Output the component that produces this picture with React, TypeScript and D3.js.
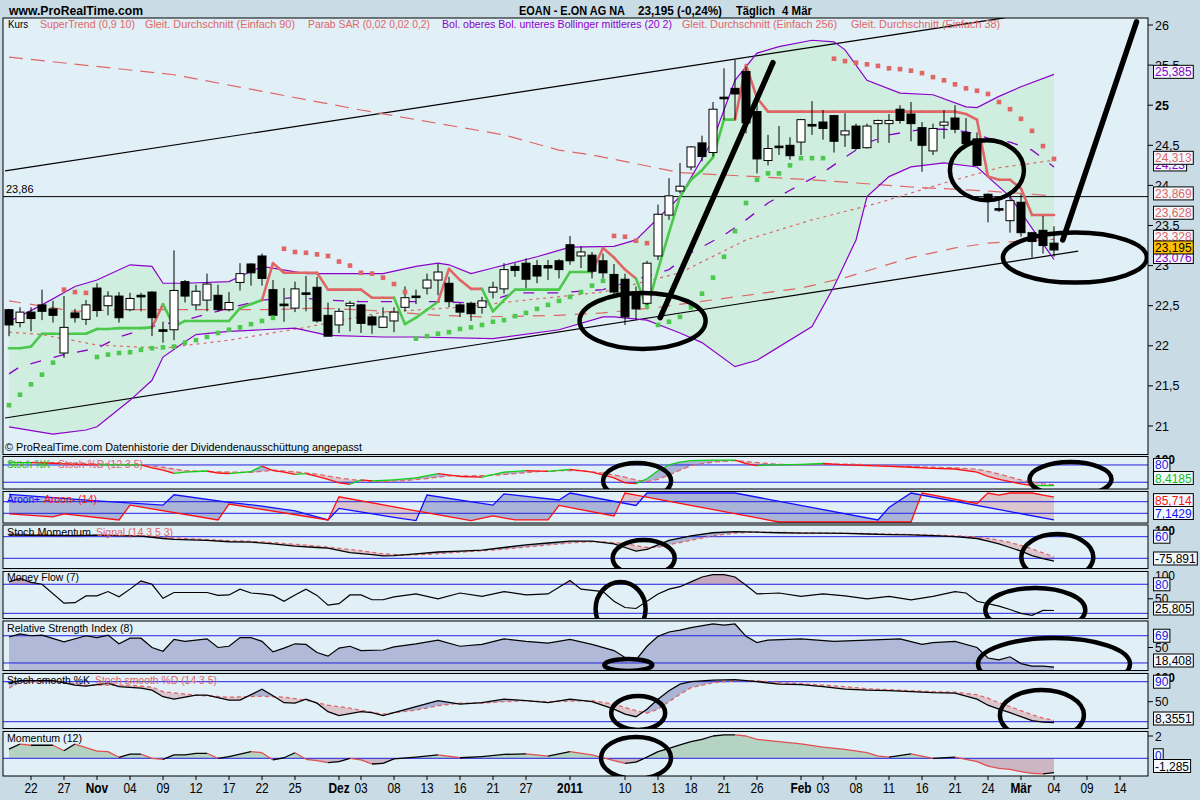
import React from 'react';
import * as d3 from 'd3';

type P = [number, number];

// trading-day index: 0 = 22 Oct 2010, 93 = 4 Mar 2011; first candle is index -2
const FIRST = -2;
const openP = [22.45,22.29,22.42,22.51,22.46,21.91,22.41,22.33,22.72,22.50,22.62,22.45,22.63,22.67,22.20,22.20,22.80,22.51,22.57,22.63,22.45,22.79,23.02,23.12,22.70,22.52,22.47,22.66,22.73,22.38,22.26,22.50,22.51,22.36,22.23,22.31,22.48,22.62,22.72,22.82,22.78,22.51,22.53,22.48,22.67,22.71,22.99,23.03,23.00,23.00,23.06,23.26,23.12,23.13,23.06,22.89,22.83,22.67,22.53,23.12,23.63,23.93,24.23,24.53,24.41,25.10,25.21,25.42,24.92,24.31,24.49,24.50,24.54,24.76,24.79,24.87,24.63,24.74,24.47,24.77,24.77,24.95,24.89,24.72,24.43,24.75,24.84,24.66,24.58,23.89,23.71,23.56,23.79,23.41,23.44,23.28];
const highP = [22.46,22.48,22.48,22.70,22.56,22.62,22.46,22.57,22.78,22.68,22.67,22.66,22.66,22.68,22.30,23.19,22.82,22.76,22.90,22.76,22.67,23.03,23.03,23.15,22.82,22.72,22.80,22.87,22.86,22.54,22.47,22.56,22.52,22.38,22.48,22.48,22.74,22.70,22.90,23.02,22.86,22.53,22.55,22.61,22.80,23.03,23.03,23.09,23.07,23.07,23.08,23.37,23.24,23.17,23.15,23.02,22.90,22.74,23.06,23.76,24.09,24.28,24.49,24.62,25.04,25.46,25.57,25.48,25.02,24.63,24.74,24.60,24.83,25.05,24.94,24.87,24.90,24.77,24.77,24.82,24.89,25.00,25.04,24.79,24.77,24.94,25.00,24.84,24.66,23.90,23.86,23.89,23.89,23.42,23.62,23.49];
const lowP = [22.12,22.23,22.18,22.32,22.29,21.85,22.29,22.26,22.36,22.38,22.29,22.43,22.43,22.12,22.04,22.07,22.54,22.44,22.43,22.43,22.43,22.69,22.75,22.75,22.32,22.30,22.42,22.43,22.29,22.12,22.16,22.18,22.16,22.15,22.22,22.17,22.43,22.52,22.64,22.63,22.48,22.36,22.31,22.40,22.59,22.65,22.86,22.72,22.78,22.82,22.84,23.01,22.97,22.84,22.84,22.62,22.26,22.32,22.51,23.07,23.57,23.90,24.19,24.30,24.36,24.82,24.82,24.65,24.15,24.25,24.38,24.32,24.38,24.63,24.57,24.41,24.48,24.44,24.46,24.53,24.53,24.77,24.55,24.17,24.38,24.58,24.65,24.48,24.25,23.54,23.67,23.41,23.36,23.10,23.15,23.11];
const closeP = [22.26,22.42,22.34,22.43,22.38,22.23,22.35,22.51,22.44,22.62,22.35,22.59,22.61,22.35,22.18,22.69,22.62,22.68,22.77,22.45,22.54,22.90,22.91,22.84,22.38,22.50,22.71,22.65,22.31,22.12,22.43,22.53,22.28,22.26,22.36,22.42,22.60,22.61,22.82,22.92,22.55,22.42,22.40,22.56,22.73,22.95,22.94,22.83,22.87,22.97,22.95,23.06,23.17,22.93,22.91,22.67,22.36,22.46,23.03,23.64,23.87,23.99,24.48,24.36,24.95,25.08,25.14,24.78,24.33,24.46,24.47,24.37,24.82,24.74,24.71,24.55,24.68,24.46,24.74,24.81,24.81,24.81,24.77,24.50,24.71,24.79,24.70,24.52,24.25,23.80,23.70,23.81,23.41,23.30,23.25,23.195];
const superTrend = [21.97,21.97,21.99,22.15,22.15,22.15,22.15,22.15,22.21,22.21,22.22,22.22,22.22,22.23,22.52,22.24,22.31,22.31,22.31,22.31,22.31,22.47,22.52,22.57,23.03,22.91,22.91,22.91,22.91,22.70,22.70,22.70,22.70,22.60,22.60,22.60,22.27,22.35,22.45,22.55,22.96,22.82,22.71,22.71,22.43,22.57,22.70,22.70,22.70,22.70,22.70,22.92,22.92,22.92,23.22,23.10,22.95,22.84,22.47,22.95,23.41,23.86,24.07,24.19,24.35,24.82,24.82,25.50,25.09,24.92,24.92,24.92,24.92,24.92,24.92,24.92,24.92,24.92,24.92,24.92,24.92,24.92,24.92,24.92,24.92,24.92,24.92,24.89,24.82,24.11,24.07,24.07,23.96,23.63,23.63,23.63];
const parabSar = [21.26,21.39,21.52,21.64,21.79,22.70,22.67,22.66,21.86,21.89,21.91,21.92,21.95,21.97,21.98,21.99,22.04,22.07,22.11,22.16,22.20,22.23,22.27,22.31,22.35,23.21,23.17,23.16,23.14,23.12,23.05,23.00,22.91,22.90,22.85,22.77,22.67,22.09,22.12,22.15,22.17,22.21,22.23,22.26,22.30,22.32,22.37,22.41,22.46,22.51,22.56,22.61,22.67,22.75,22.81,23.37,23.36,23.31,23.28,22.26,22.30,22.36,22.48,22.65,22.85,23.11,23.43,23.78,24.07,24.15,24.15,24.25,24.34,24.34,24.34,25.58,25.55,25.53,25.51,25.49,25.46,25.45,25.43,25.40,25.35,25.31,25.26,25.21,25.18,25.14,25.04,24.95,24.83,24.68,24.49,24.33];

const bbUpper: P[] = [[-2,22.30],[1,22.51],[4,22.74],[6,22.82],[9,23.01],[11,22.99],[12,22.78],[14,22.78],[18,22.80],[21,22.99],[25,22.90],[32,22.90],[35,22.99],[37,23.03],[38,23.01],[40,22.90],[42,22.97],[46,23.11],[49,23.23],[53,23.24],[55,23.32],[59,23.86],[62,24.57],[64,25.31],[66,25.65],[68,25.73],[71,25.81],[73,25.79],[74,25.69],[76,25.31],[79,25.15],[82,25.13],[85,24.98],[86,24.97],[88,25.11],[90,25.23],[93,25.385]];
const bbLower: P[] = [[-2,20.99],[2,20.90],[5,20.95],[6,20.99],[9,21.32],[11,21.57],[12,21.86],[14,22.05],[15,22.14],[18,22.18],[21,22.20],[24,22.22],[27,22.13],[32,22.11],[35,22.11],[42,22.09],[48,22.20],[52,22.36],[53,22.36],[56,22.32],[59,22.16],[61,22.04],[64,21.74],[66,21.82],[71,22.24],[73,22.74],[75,23.32],[76,23.86],[78,24.11],[80,24.23],[83,24.28],[86,24.23],[89,23.86],[92,23.27],[93,23.076]];
const bbMiddle: P[] = [[-2,21.65],[-1,21.74],[3,21.89],[6,21.97],[8,22.11],[11,22.24],[14,22.32],[18,22.47],[21,22.57],[24,22.60],[27,22.57],[30,22.55],[37,22.55],[41,22.53],[44,22.66],[48,22.66],[52,22.70],[58,22.95],[60,23.16],[63,23.38],[65,23.57],[67,23.78],[69,23.94],[72,24.16],[74,24.35],[76,24.53],[78,24.63],[81,24.70],[83,24.70],[85,24.67],[87,24.59],[89,24.54],[91,24.44],[93,24.23]];
const sma256: P[] = [[-2,25.60],[13,25.38],[30,24.94],[43,24.63],[48,24.44],[51,24.38],[59,24.16],[71,24.07],[80,23.98],[87,23.93],[93,23.869]];
const sma90: P[] = [[-2,22.56],[4,22.43],[8,22.45],[15,22.45],[22,22.45],[26,22.47],[30,22.45],[37,22.38],[41,22.36],[48,22.38],[52,22.41],[57,22.48],[64,22.61],[70,22.72],[74,22.85],[80,23.10],[84,23.22],[87,23.28],[93,23.328]];
const sma38: P[] = [[-2,22.17],[1,22.14],[6,22.01],[12,21.97],[18,22.07],[25,22.23],[32,22.42],[39,22.48],[45,22.57],[52,22.67],[59,22.91],[65,23.32],[71,23.57],[77,23.78],[83,24.03],[88,24.22],[93,24.313]];

const stochK: P[] = [[-2,88],[0,88],[2,86],[4,82],[6,80],[10,80],[11,70],[12,62],[13,51],[14,55],[16,59],[17,52],[18,50],[20,57],[21,76],[22,60],[23,55],[24,47],[25,50],[26,40],[27,30],[28,18],[29,13],[30,28],[31,25],[33,28],[35,35],[37,50],[39,40],[41,38],[43,55],[45,60],[47,58],[49,65],[51,55],[53,35],[54,18],[55,15],[56,32],[57,60],[58,80],[59,90],[60,95],[62,97],[64,97],[65,85],[66,78],[68,80],[70,82],[72,85],[74,80],[76,78],[78,75],[80,72],[82,68],[84,66],[86,55],[87,40],[88,30],[89,22],[90,14],[91,8],[92,8],[93,8.42]];
const stochD: P[] = [[-2,90],[2,88],[6,84],[10,80],[12,72],[14,60],[17,56],[20,54],[22,62],[24,56],[26,48],[28,35],[30,25],[32,22],[34,26],[36,33],[38,42],[40,42],[42,44],[44,50],[46,57],[48,60],[50,60],[52,52],[54,38],[55,28],[56,22],[57,30],[58,45],[59,62],[60,78],[62,90],[64,95],[66,88],[68,82],[70,80],[72,82],[74,83],[76,81],[78,78],[80,75],[82,72],[84,70],[86,65],[87,58],[88,48],[89,38],[90,28],[91,20],[92,14],[93,11]];
const aroonUp: P[] = [[-2,95],[6,73],[12,58],[13,94],[18,68],[21,55],[24,38],[27,7],[28,47],[33,16],[35,5],[36,93],[42,58],[43,97],[48,76],[49,100],[55,57],[56,100],[64,100],[77,7],[78,50],[80,100],[93,7.14]];
const aroonDown: P[] = [[-2,28],[2,18],[3,28],[8,7],[9,58],[17,7],[18,62],[27,7],[28,87],[34,45],[40,5],[42,21],[44,7],[47,7],[48,57],[53,21],[54,100],[55,93],[68,0],[80,0],[81,100],[86,64],[87,100],[88,93],[89,100],[91,100],[92,93],[93,85.71]];
const smi: P[] = [[-2,70],[0,68],[4,66],[6,69],[10,63],[12,50],[13,45],[16,40],[18,32],[20,30],[22,20],[24,8],[26,0],[27,-4],[29,-29],[31,-40],[32,-47],[33,-45],[35,-35],[37,-25],[39,-20],[41,-15],[43,0],[45,15],[47,25],[49,35],[51,35],[53,20],[54,0],[55,-20],[56,-10],[57,15],[58,40],[60,65],[62,82],[64,88],[66,85],[68,82],[70,80],[72,80],[74,78],[76,75],[78,72],[80,70],[82,66],[84,60],[86,50],[87,35],[88,20],[89,0],[90,-20],[91,-45],[92,-62],[93,-75.89]];
const smiSignal: P[] = [[-2,78],[2,70],[6,68],[10,66],[12,58],[14,50],[16,44],[18,38],[20,34],[22,27],[24,18],[26,8],[28,-5],[30,-18],[32,-35],[34,-42],[36,-38],[38,-30],[40,-22],[42,-14],[44,-4],[46,8],[48,20],[50,30],[52,32],[54,22],[55,10],[56,0],[57,2],[58,15],[60,40],[62,65],[64,80],[66,86],[68,84],[70,82],[72,80],[74,79],[76,77],[78,75],[80,72],[82,69],[84,65],[86,58],[87,50],[88,40],[89,28],[90,12],[91,-8],[92,-30],[93,-52]];
const moneyFlow: P[] = [[-2,85],[-1,92],[0,84],[1,80],[3,41],[4,42],[5,56],[6,56],[7,65],[8,54],[9,70],[10,87],[11,80],[12,51],[13,63],[14,63],[16,63],[17,57],[18,58],[19,70],[20,62],[21,60],[22,57],[23,45],[24,58],[25,70],[26,57],[27,37],[28,40],[29,58],[30,58],[31,48],[32,48],[33,54],[35,60],[37,50],[39,62],[41,55],[43,65],[45,58],[47,60],[49,88],[50,70],[52,65],[53,45],[54,32],[55,30],[56,45],[57,60],[58,70],[59,75],[60,85],[61,95],[62,100],[63,100],[64,95],[65,78],[66,60],[68,62],[70,55],[72,60],[74,56],[76,50],[78,55],[80,48],[82,55],[84,65],[85,62],[86,45],[88,35],[89,28],[90,20],[91,16],[92,26],[93,25.8]];
const rsi: P[] = [[-2,67],[-1,72],[0,69],[1,70],[3,59],[5,69],[6,66],[7,70],[8,56],[9,65],[10,65],[11,50],[12,44],[13,63],[14,60],[16,64],[17,50],[18,52],[19,66],[20,66],[21,60],[22,43],[23,49],[24,56],[25,55],[26,42],[27,36],[28,49],[29,52],[30,45],[32,46],[33,51],[35,56],[37,62],[39,52],[41,55],[43,64],[45,60],[47,57],[49,63],[51,55],[53,45],[54,34],[55,30],[56,52],[57,68],[58,75],[59,78],[60,82],[62,88],[63,86],[64,88],[65,68],[66,58],[67,62],[70,64],[73,60],[76,62],[79,64],[81,55],[82,58],[84,60],[86,50],[87,33],[88,30],[89,35],[90,24],[91,20],[92,20],[93,18.41]];
const ssK: P[] = [[-2,87],[-1,92],[2,92],[4,83],[5,81],[7,87],[8,80],[10,77],[11,73],[12,60],[13,55],[15,63],[16,63],[18,53],[19,53],[21,75],[22,62],[23,48],[24,47],[25,55],[26,47],[27,30],[28,22],[30,30],[31,28],[32,22],[33,28],[35,40],[37,52],[39,45],[41,48],[43,55],[45,52],[47,48],[49,55],[51,50],[53,35],[54,25],[55,20],[56,35],[57,55],[58,72],[59,85],[60,90],[62,93],[64,94],[66,90],[68,85],[70,84],[72,80],[74,75],[76,73],[78,72],[80,70],[82,68],[84,67],[86,55],[87,43],[88,35],[89,28],[90,20],[91,12],[92,9],[93,8.36]];
const ssD: P[] = [[-2,77],[-1,89],[2,92],[5,83],[9,83],[11,79],[12,70],[15,63],[18,59],[21,61],[23,59],[25,53],[27,43],[29,37],[32,25],[33,28],[35,33],[37,42],[39,47],[41,47],[43,50],[45,52],[47,50],[49,51],[51,52],[53,45],[55,32],[56,27],[57,35],[58,50],[59,65],[60,78],[62,88],[64,92],[66,92],[68,88],[70,86],[72,83],[74,80],[76,76],[78,74],[80,72],[82,70],[84,69],[86,64],[87,57],[88,48],[89,40],[90,32],[91,24],[92,17],[93,13]];
const momentum: P[] = [[-2,0.83],[-1,1.28],[0,1.17],[2,1.17],[3,0.68],[4,1.28],[6,0.65],[7,0.6],[8,0.09],[9,0.38],[10,0.38],[11,0],[12,-0.09],[13,0.3],[14,0.3],[15,0.45],[16,0.45],[17,0],[18,0.15],[19,0.38],[20,0.6],[21,0.5],[22,-0.15],[23,0.05],[24,0.5],[25,-0.09],[26,-0.21],[27,-0.39],[28,-0.3],[29,0],[30,-0.15],[31,-0.51],[32,-0.45],[33,-0.06],[35,0.1],[37,0.3],[39,0.05],[41,0.15],[43,0.35],[45,0.4],[47,0.2],[49,0.6],[51,0.3],[53,-0.2],[54,-0.45],[55,-0.35],[56,0.1],[57,0.6],[58,0.9],[59,1.2],[60,1.5],[61,1.7],[62,2.0],[63,2.1],[64,2.1],[65,2.0],[66,1.7],[68,1.5],[70,1.3],[72,1.0],[74,0.8],[76,0.5],[77,0.2],[78,0.1],[80,0.4],[82,0.0],[84,0.1],[86,-0.3],[87,-0.7],[88,-0.9],[89,-1.0],[90,-1.2],[91,-1.35],[92,-1.4],[93,-1.285]];

const xLabels: [number, string, boolean][] = [[0,'22',false],[3,'27',false],[6,'Nov',true],[9,'04',false],[12,'09',false],[15,'12',false],[18,'17',false],[21,'22',false],[24,'25',false],[28,'Dez',true],[30,'03',false],[33,'08',false],[36,'13',false],[39,'16',false],[42,'21',false],[45,'27',false],[49,'2011',true],[54,'10',false],[57,'13',false],[60,'18',false],[63,'21',false],[66,'26',false],[70,'Feb',true],[72,'03',false],[75,'08',false],[78,'11',false],[81,'16',false],[84,'21',false],[87,'24',false],[90,'Mär',true],[93,'04',false],[96,'09',false],[99,'14',false]];
const priceTicks = [21, 21.5, 22, 22.5, 23, 23.5, 24, 24.5, 25, 25.5, 26];

// legend / label texts: [text, x start, width, colour key]
const mainLegend: [string, number, number, string][] = [
  ['Kurs', 8, 20, 'black'],
  ['SuperTrend (0,9 10)', 40, 95, 'red'],
  ['Gleit. Durchschnitt (Einfach 90)', 145, 150, 'red'],
  ['Parab SAR (0,02 0,02 0,2)', 308, 122, 'red'],
  ['Bol. oberes Bol. unteres Bollinger mittleres (20 2)', 442, 230, 'purple'],
  ['Gleit. Durchschnitt (Einfach 256)', 682, 155, 'red'],
  ['Gleit. Durchschnitt (Einfach 38)', 851, 149, 'red'],
];

// hand-drawn annotations (index, price)
const hLine = 23.86;
const thinLines: [P, P][] = [[[-2.36, 24.18], [88.5, 26.09]], [[-2.36, 21.10], [95.2, 23.18]]];
const thickLines: [P, P][] = [[[57.2, 22.35], [67.45, 25.53]], [[93.8, 23.32], [100.5, 26.04]]];
const mainEllipses: [number, number, number, number][] = [[55.6, 22.31, 63, 28], [86.9, 24.19, 37, 30], [94.9, 23.10, 72, 25]];

const COL: Record<string, string> = {
  outer: '#c9dbe5', panel: '#e1eff7', bb: '#cfeedf', purple: '#8c00cc', red: '#e06666', black: '#000',
  green: '#4cc84c', blue: '#2222e0', fillBlue: '#aab4d6', fillPink: '#dcc6ce', rsiFill: '#b0b9d8',
  momPos: '#b4d3c2', momNeg: '#ccb6c4', mfFill: '#c6a8bd',
};

const FONT = 'Liberation Sans, Arial, Helvetica, sans-serif';

export default function App() {
  const L = 3, R = 1148;
  const x = d3.scaleLinear().domain([0, 93]).range([31, 1054]);
  const yMain = d3.scaleLinear().domain([21, 26]).range([426, 25]);
  const MT = 18, MB = 454.5;

  const pn = {
    stoch: { top: 456.5, bottom: 489, y: d3.scaleLinear().domain([0, 100]).range([488, 459.2]) },
    aroon: { top: 491.5, bottom: 523, y: d3.scaleLinear().domain([0, 100]).range([522, 493]) },
    smi: { top: 525, bottom: 568.5, y: d3.scaleLinear().domain([-100, 100]).range([565.5, 529.5]) },
    mf: { top: 571.5, bottom: 618.5, y: d3.scaleLinear().domain([0, 100]).range([623, 574.6]) },
    rsi: { top: 621, bottom: 670.5, y: d3.scaleLinear().domain([0, 100]).range([678.45, 616.55]) },
    ss: { top: 673.5, bottom: 728.5, y: d3.scaleLinear().domain([0, 100]).range([726.7, 676.7]) },
    mom: { top: 731.5, bottom: 776, y: d3.scaleLinear().domain([-2, 2]).range([780.6, 736]) },
  };

  const lineP = (data: P[], ys: any) => d3.line<P>().x(d => x(d[0])).y(d => ys(d[1]))(data) || '';
  const areaTop = (data: P[], ys: any, top: number) => d3.area<P>().x(d => x(d[0])).y0(top).y1(d => ys(d[1]))(data) || '';
  const areaBot = (data: P[], ys: any, bot: number) => d3.area<P>().x(d => x(d[0])).y0(d => ys(d[1])).y1(bot)(data) || '';

  const between = (id: string, a: P[], b: P[], ys: any, top: number, bot: number, colAUp: string, colBUp: string) => (
    <g>
      <defs>
        <clipPath id={id + 'A'}><path d={areaBot(a, ys, bot)} /></clipPath>
        <clipPath id={id + 'B'}><path d={areaBot(b, ys, bot)} /></clipPath>
      </defs>
      <path d={areaTop(b, ys, top)} fill={colAUp} clipPath={`url(#${id}A)`} />
      <path d={areaTop(a, ys, top)} fill={colBUp} clipPath={`url(#${id}B)`} />
    </g>
  );

  const segLine = (key: string, data: P[], ys: any, colorFn: (p: P, d: P) => string, w: number) =>
    data.slice(1).map((d, i) => {
      const p = data[i];
      return <line key={key + i} x1={x(p[0])} y1={ys(p[1])} x2={x(d[0])} y2={ys(d[1])}
        stroke={colorFn(p, d)} strokeWidth={w} strokeLinecap={w > 1.5 ? 'round' : 'butt'} />;
    });

  const tw = (s: string) => [...s].reduce((a, c) => a + (c === ',' ? 3.3 : c === '-' ? 4 : 6.7), 0);
  const vbox = (key: string, yc: number, text: string, color: string, bg = '#f3f9fc') => (
    <g key={key}>
      <rect x={1153.5} y={yc - 6.5} width={tw(text) + 3} height={13} fill={bg} stroke="#000" strokeWidth={1} />
      <text x={1155} y={yc + 4.5} fontSize={12} fill={color}>{text}</text>
    </g>
  );
  const clampBox = (v: number, top: number, bot: number) => Math.max(top + 7, Math.min(bot - 10, v));

  const priceSeries = closeP.map((c, i) => ({ i: FIRST + i, o: openP[i], h: highP[i], l: lowP[i], c }));

  const bandPts: [number, number][] = [
    ...bbUpper.map(p => [x(p[0]), yMain(p[1])] as [number, number]),
    ...bbLower.slice().reverse().map(p => [x(p[0]), yMain(p[1])] as [number, number]),
  ];
  const bandPath = (d3.line()(bandPts) || '') + 'Z';

  const stPts: P[] = superTrend.map((v, i) => [FIRST + i, v]);
  const stColor = (_p: P, d: P) => (d[1] > closeP[d[0] - FIRST] ? COL.red : COL.green);

  const panelRect = (key: string, top: number, bot: number) => (
    <rect key={key} x={L} y={top} width={R - L} height={bot - top} fill={COL.panel} />
  );
  const panelBorder = (key: string, top: number, bot: number) => (
    <rect key={key} x={L} y={top} width={R - L} height={bot - top} fill="none" stroke="#000" strokeWidth={1} />
  );
  const hRef = (key: string, ys: any, v: number) => (
    <line key={key} x1={L} x2={R} y1={ys(v)} y2={ys(v)} stroke={COL.blue} strokeWidth={1} />
  );
  const clipDef = (id: string, top: number, bot: number) => (
    <clipPath id={id}><rect x={L} y={top} width={R - L} height={bot - top} /></clipPath>
  );
  const ell = (key: string, cx: number, cy: number, rx: number, ry: number) => (
    <ellipse key={key} cx={cx} cy={cy} rx={rx} ry={ry} fill="none" stroke="#000" strokeWidth={4.5} />
  );
  const lbl = (key: string, xx: number, yy: number, t: string, c: string, w: number) => (
    <text key={key} x={xx} y={yy} fontSize={11} fill={c} textLength={w} lengthAdjust="spacingAndGlyphs">{t}</text>
  );
  const bold = (xx: number, yy: number, t: string, w: number) => (
    <text x={xx} y={yy} fontSize={13} fontWeight="bold" textLength={w} lengthAdjust="spacingAndGlyphs">{t}</text>
  );

  const upDown = (up: string, down: string) => (p: P, d: P) => (d[1] >= p[1] ? up : down);

  return (
    <svg width={1200} height={800} style={{ position: 'absolute', left: 0, top: 0, display: 'block' }} fontFamily={FONT}>
      <defs>
        {clipDef('cMain', MT, MB)}
        {clipDef('cStoch', pn.stoch.top, pn.stoch.bottom)}
        {clipDef('cAroon', pn.aroon.top, pn.aroon.bottom)}
        {clipDef('cSmi', pn.smi.top, pn.smi.bottom)}
        {clipDef('cMf', pn.mf.top, pn.mf.bottom)}
        {clipDef('cRsi', pn.rsi.top, pn.rsi.bottom)}
        {clipDef('cSs', pn.ss.top, pn.ss.bottom)}
        {clipDef('cMom', pn.mom.top, pn.mom.bottom)}
        <clipPath id="mfAbove"><rect x={L} y={pn.mf.top} width={R - L} height={pn.mf.y(80) - pn.mf.top} /></clipPath>
        <clipPath id="momAbove"><rect x={L} y={pn.mom.top} width={R - L} height={pn.mom.y(0) - pn.mom.top} /></clipPath>
        <clipPath id="momBelow"><rect x={L} y={pn.mom.y(0)} width={R - L} height={pn.mom.bottom - pn.mom.y(0)} /></clipPath>
      </defs>
      <rect x={0} y={0} width={1200} height={800} fill={COL.outer} />

      {/* title */}
      {bold(9, 15, 'www.ProRealTime.com', 134)}
      {bold(519, 15, 'EOAN - E.ON AG NA', 106)}
      {bold(638, 15, '23,195 (-0,24%)', 84)}
      {bold(736, 15, 'Täglich', 39)}
      {bold(782, 15, '4 Mär', 30)}

      {/* ================= MAIN PRICE PANEL ================= */}
      {panelRect('pm', MT, MB)}
      <g clipPath="url(#cMain)">
        <path d={bandPath} fill={COL.bb} />
        <line x1={L} x2={R} y1={yMain(hLine)} y2={yMain(hLine)} stroke="#000" strokeWidth={1} />
        {thinLines.map((l, i) => (
          <line key={'tl' + i} x1={x(l[0][0])} y1={yMain(l[0][1])} x2={x(l[1][0])} y2={yMain(l[1][1])} stroke="#000" strokeWidth={1.2} />
        ))}
        <path d={lineP(sma256, yMain)} fill="none" stroke={COL.red} strokeWidth={1.2} strokeDasharray="14,8" />
        <path d={lineP(sma90, yMain)} fill="none" stroke={COL.red} strokeWidth={1.2} strokeDasharray="12,9" />
        <path d={lineP(sma38, yMain)} fill="none" stroke={COL.red} strokeWidth={1.2} strokeDasharray="3,4" />
        <path d={lineP(bbUpper, yMain)} fill="none" stroke={COL.purple} strokeWidth={1.2} />
        <path d={lineP(bbLower, yMain)} fill="none" stroke={COL.purple} strokeWidth={1.2} />
        <path d={lineP(bbMiddle, yMain)} fill="none" stroke={COL.purple} strokeWidth={1.3} strokeDasharray="11,13" />
        {segLine('st', stPts, yMain, stColor, 2.6)}
        {priceSeries.map(d => {
          const cx = x(d.i);
          const top = yMain(Math.max(d.o, d.c));
          const bot = yMain(Math.min(d.o, d.c));
          const up = d.c >= d.o;
          return (
            <g key={'c' + d.i}>
              <line x1={cx} x2={cx} y1={yMain(d.h)} y2={yMain(d.l)} stroke="#000" strokeWidth={1} />
              <rect x={cx - 4} y={top} width={8} height={Math.max(1.5, bot - top)} fill={up ? '#fff' : '#000'} stroke="#000" strokeWidth={1} />
            </g>
          );
        })}
        {parabSar.map((v, i) => (
          <rect key={'s' + i} x={x(FIRST + i) - 2.3} y={yMain(v) - 2.3} width={4.6} height={4.6}
            fill={v > closeP[i] ? COL.red : COL.green} />
        ))}
        {thickLines.map((l, i) => (
          <line key={'th' + i} x1={x(l[0][0])} y1={yMain(l[0][1])} x2={x(l[1][0])} y2={yMain(l[1][1])} stroke="#000" strokeWidth={5.5} strokeLinecap="round" />
        ))}
        {mainEllipses.map((e, i) => ell('me' + i, x(e[0]), yMain(e[1]), e[2], e[3]))}
      </g>
      <text x={6} y={yMain(hLine) - 4} fontSize={11}>23,86</text>
      {mainLegend.map(([t, xx, w, c], i) => lbl('lg' + i, xx, 28, t, COL[c], w))}
      <text x={5} y={451} fontSize={11.5} textLength={357} lengthAdjust="spacingAndGlyphs">© ProRealTime.com  Datenhistorie der Dividendenausschüttung angepasst</text>
      {panelBorder('bm', MT, MB)}
      {priceTicks.map(t => (
        <g key={'pt' + t}>
          <line x1={R} x2={R + 5} y1={yMain(t)} y2={yMain(t)} stroke="#000" />
          <text x={1155} y={yMain(t) + 4.5} fontSize={12.5} fontWeight={t === 25 ? 'bold' : 'normal'}>
            {String(t).replace('.', ',')}
          </text>
        </g>
      ))}
      {vbox('b1', yMain(25.385) - 2.5, '25,385', COL.purple)}
      {vbox('b2', yMain(24.23) - 2.5, '24,23', COL.purple)}
      {vbox('b3', yMain(24.313) - 2.5, '24,313', COL.red)}
      {vbox('b4', yMain(23.869) - 2.5, '23,869', COL.red)}
      {vbox('b5', yMain(23.628) - 2.5, '23,628', COL.red)}
      {vbox('b6', yMain(23.328) - 2.5, '23,328', COL.red)}
      {vbox('b7', yMain(23.076) - 2.5, '23,076', COL.purple)}
      {vbox('b8', yMain(23.195) - 2.5, '23,195', '#000', '#ffc000')}

      {/* ================= STOCH %K %D ================= */}
      {panelRect('p1', pn.stoch.top, pn.stoch.bottom)}
      <g clipPath="url(#cStoch)">
        {between('stf', stochK, stochD, pn.stoch.y, pn.stoch.top, pn.stoch.bottom, COL.fillBlue, COL.fillPink)}
        {hRef('s80', pn.stoch.y, 80)}
        {hRef('s20', pn.stoch.y, 20)}
        <path d={lineP(stochD, pn.stoch.y)} fill="none" stroke={COL.red} strokeWidth={1.3} strokeDasharray="5,3" />
        {segLine('sk', stochK, pn.stoch.y, upDown('#10d010', '#ff1010'), 1.3)}
        {ell('e1', x(55.1), pn.stoch.y(24), 34, 18)}
        {ell('e2', x(94.5), pn.stoch.y(31), 41, 17)}
      </g>
      {lbl('l1a', 7, 468, 'Stoch %K', '#10c010', 43)}
      {lbl('l1b', 58, 468, 'Stoch %D (12 3 5)', COL.red, 85)}
      {panelBorder('q1', pn.stoch.top, pn.stoch.bottom)}
      <text x={1155} y={pn.stoch.y(100) + 5} fontSize={12} fontWeight="bold">100</text>
      {vbox('s1', pn.stoch.y(80), '80', COL.blue)}
      {vbox('s2', clampBox(pn.stoch.y(8.42), pn.stoch.top, pn.stoch.bottom) - 1, '8,4185', '#10c010')}

      {/* ================= AROON ================= */}
      {panelRect('p2', pn.aroon.top, pn.aroon.bottom)}
      <g clipPath="url(#cAroon)">
        {between('arf', aroonUp, aroonDown, pn.aroon.y, pn.aroon.top, pn.aroon.bottom, COL.fillBlue, COL.fillPink)}
        {hRef('a70', pn.aroon.y, 70)}
        {hRef('a30', pn.aroon.y, 30)}
        <path d={lineP(aroonUp, pn.aroon.y)} fill="none" stroke="#1010ff" strokeWidth={1.3} />
        <path d={lineP(aroonDown, pn.aroon.y)} fill="none" stroke="#ff1010" strokeWidth={1.3} />
      </g>
      {lbl('l2a', 7, 503, 'Aroon+', '#1010ff', 33)}
      {lbl('l2b', 44, 503, 'Aroon- (14)', '#ff1010', 53)}
      {panelBorder('q2', pn.aroon.top, pn.aroon.bottom)}
      {vbox('a1', pn.aroon.y(85.71) + 3, '85,714', '#ff1010')}
      {vbox('a2', clampBox(pn.aroon.y(7.14), pn.aroon.top, pn.aroon.bottom), '7,1429', '#1010ff')}

      {/* ================= STOCH MOMENTUM ================= */}
      {panelRect('p3', pn.smi.top, pn.smi.bottom)}
      <g clipPath="url(#cSmi)">
        {between('smf', smi, smiSignal, pn.smi.y, pn.smi.top, pn.smi.bottom, COL.fillBlue, COL.fillPink)}
        {hRef('m60', pn.smi.y, 60)}
        {hRef('m-60', pn.smi.y, -60)}
        <path d={lineP(smiSignal, pn.smi.y)} fill="none" stroke={COL.red} strokeWidth={1.3} strokeDasharray="4,3" />
        <path d={lineP(smi, pn.smi.y)} fill="none" stroke="#000" strokeWidth={1.3} />
        {ell('e3', x(55.7), pn.smi.y(-58), 31, 18)}
        {ell('e4', x(93.3), pn.smi.y(-53), 36, 23)}
      </g>
      {lbl('l3a', 7, 536, 'Stoch Momentum', '#000', 84)}
      {lbl('l3b', 96, 536, 'Signal (14 3 5 3)', COL.red, 77)}
      {panelBorder('q3', pn.smi.top, pn.smi.bottom)}
      <text x={1155} y={pn.smi.y(100) + 5} fontSize={12} fontWeight="bold">100</text>
      {vbox('m1', pn.smi.y(60), '60', COL.blue)}
      {vbox('m2', clampBox(pn.smi.y(-75.89), pn.smi.top, pn.smi.bottom), '-75,891', '#000')}

      {/* ================= MONEY FLOW ================= */}
      {panelRect('p4', pn.mf.top, pn.mf.bottom)}
      <g clipPath="url(#cMf)">
        <path d={d3.area<P>().x(d => x(d[0])).y0(pn.mf.y(80)).y1(d => pn.mf.y(d[1]))(moneyFlow) || ''} fill={COL.mfFill} clipPath="url(#mfAbove)" />
        {hRef('f80', pn.mf.y, 80)}
        {hRef('f20', pn.mf.y, 20)}
        <path d={lineP(moneyFlow, pn.mf.y)} fill="none" stroke="#000" strokeWidth={1.2} />
        {ell('e5', x(53.6), pn.mf.y(29), 25, 27)}
        {ell('e6', x(91.3), pn.mf.y(27), 50, 22)}
      </g>
      {lbl('l4', 7, 581, 'Money Flow (7)', '#000', 72)}
      {panelBorder('q4', pn.mf.top, pn.mf.bottom)}
      <text x={1155} y={pn.mf.y(100) + 5} fontSize={12}>100</text>
      <line x1={R} x2={R + 5} y1={pn.mf.y(50)} y2={pn.mf.y(50)} stroke="#000" />
      <text x={1155} y={pn.mf.y(50) + 4.5} fontSize={12}>50</text>
      {vbox('f1', pn.mf.y(80), '80', COL.blue)}
      {vbox('f2', clampBox(pn.mf.y(25.8), pn.mf.top, pn.mf.bottom), '25,805', '#000')}

      {/* ================= RSI ================= */}
      {panelRect('p5', pn.rsi.top, pn.rsi.bottom)}
      <g clipPath="url(#cRsi)">
        <path d={areaBot(rsi, pn.rsi.y, pn.rsi.bottom)} fill={COL.rsiFill} />
        {hRef('r69', pn.rsi.y, 69)}
        {hRef('r25', pn.rsi.y, 25)}
        <path d={lineP(rsi, pn.rsi.y)} fill="none" stroke="#000" strokeWidth={1.2} />
        {ell('e7', x(54.3), pn.rsi.y(21.7), 24, 6)}
        {ell('e8', x(93), pn.rsi.y(23.3), 76, 26)}
      </g>
      {lbl('l5', 7, 632, 'Relative Strength Index (8)', '#000', 126)}
      {panelBorder('q5', pn.rsi.top, pn.rsi.bottom)}
      <line x1={R} x2={R + 5} y1={pn.rsi.y(50)} y2={pn.rsi.y(50)} stroke="#000" />
      <text x={1155} y={pn.rsi.y(50) + 4.5} fontSize={12}>50</text>
      {vbox('r1', pn.rsi.y(69), '69', COL.blue)}
      {vbox('r2', clampBox(pn.rsi.y(18.41), pn.rsi.top, pn.rsi.bottom), '18,408', '#000')}

      {/* ================= STOCH SMOOTH ================= */}
      {panelRect('p6', pn.ss.top, pn.ss.bottom)}
      <g clipPath="url(#cSs)">
        {between('ssf', ssK, ssD, pn.ss.y, pn.ss.top, pn.ss.bottom, COL.fillBlue, COL.fillPink)}
        {hRef('x90', pn.ss.y, 90)}
        {hRef('x10', pn.ss.y, 10)}
        <path d={lineP(ssD, pn.ss.y)} fill="none" stroke={COL.red} strokeWidth={1.3} strokeDasharray="4,3" />
        <path d={lineP(ssK, pn.ss.y)} fill="none" stroke="#000" strokeWidth={1.3} />
        {ell('e9', x(55.2), pn.ss.y(27.4), 27, 17)}
        {ell('e10', x(91.9), pn.ss.y(23.4), 42, 25)}
      </g>
      {lbl('l6a', 7, 684, 'Stoch smooth %K', '#000', 83)}
      {lbl('l6b', 95, 684, 'Stoch smooth %D (14 3 5)', COL.red, 122)}
      {panelBorder('q6', pn.ss.top, pn.ss.bottom)}
      <text x={1155} y={pn.ss.y(100) + 5} fontSize={12} fontWeight="bold">100</text>
      <line x1={R} x2={R + 5} y1={pn.ss.y(50)} y2={pn.ss.y(50)} stroke="#000" />
      <text x={1155} y={pn.ss.y(50) + 4.5} fontSize={12}>50</text>
      {vbox('x1', pn.ss.y(90), '90', COL.blue)}
      {vbox('x2', clampBox(pn.ss.y(8.36), pn.ss.top, pn.ss.bottom), '8,3551', '#000')}

      {/* ================= MOMENTUM ================= */}
      {panelRect('p7', pn.mom.top, pn.mom.bottom)}
      <g clipPath="url(#cMom)">
        <path d={d3.area<P>().x(d => x(d[0])).y0(pn.mom.y(0)).y1(d => pn.mom.y(d[1]))(momentum) || ''} fill={COL.momPos} clipPath="url(#momAbove)" />
        <path d={d3.area<P>().x(d => x(d[0])).y0(pn.mom.y(0)).y1(d => pn.mom.y(d[1]))(momentum) || ''} fill={COL.momNeg} clipPath="url(#momBelow)" />
        {hRef('o0', pn.mom.y, 0)}
        {segLine('mo', momentum, pn.mom.y, upDown('#000', '#e05050'), 1.3)}
        {ell('e11', x(55), pn.mom.y(0.03), 35, 21)}
      </g>
      {lbl('l7', 7, 742, 'Momentum (12)', '#000', 75)}
      {panelBorder('q7', pn.mom.top, pn.mom.bottom)}
      <line x1={R} x2={R + 5} y1={pn.mom.y(2)} y2={pn.mom.y(2)} stroke="#000" />
      <text x={1155} y={pn.mom.y(2) + 4.5} fontSize={12}>2</text>
      {vbox('o1', pn.mom.y(0) - 3, '0', COL.blue)}
      {vbox('o2', clampBox(pn.mom.y(-1.285), pn.mom.top, pn.mom.bottom), '-1,285', '#000')}

      {/* ================= X AXIS ================= */}
      {xLabels.map(([i, t, b]) => (
        <g key={'xl' + i}>
          <line x1={x(i)} x2={x(i)} y1={776} y2={780} stroke="#000" />
          <text transform={`translate(${x(i)},793) scale(0.85,1)`} fontSize={14} textAnchor="middle"
            fontWeight={b ? 'bold' : 'normal'}>{t}</text>
        </g>
      ))}
    </svg>
  );
}
